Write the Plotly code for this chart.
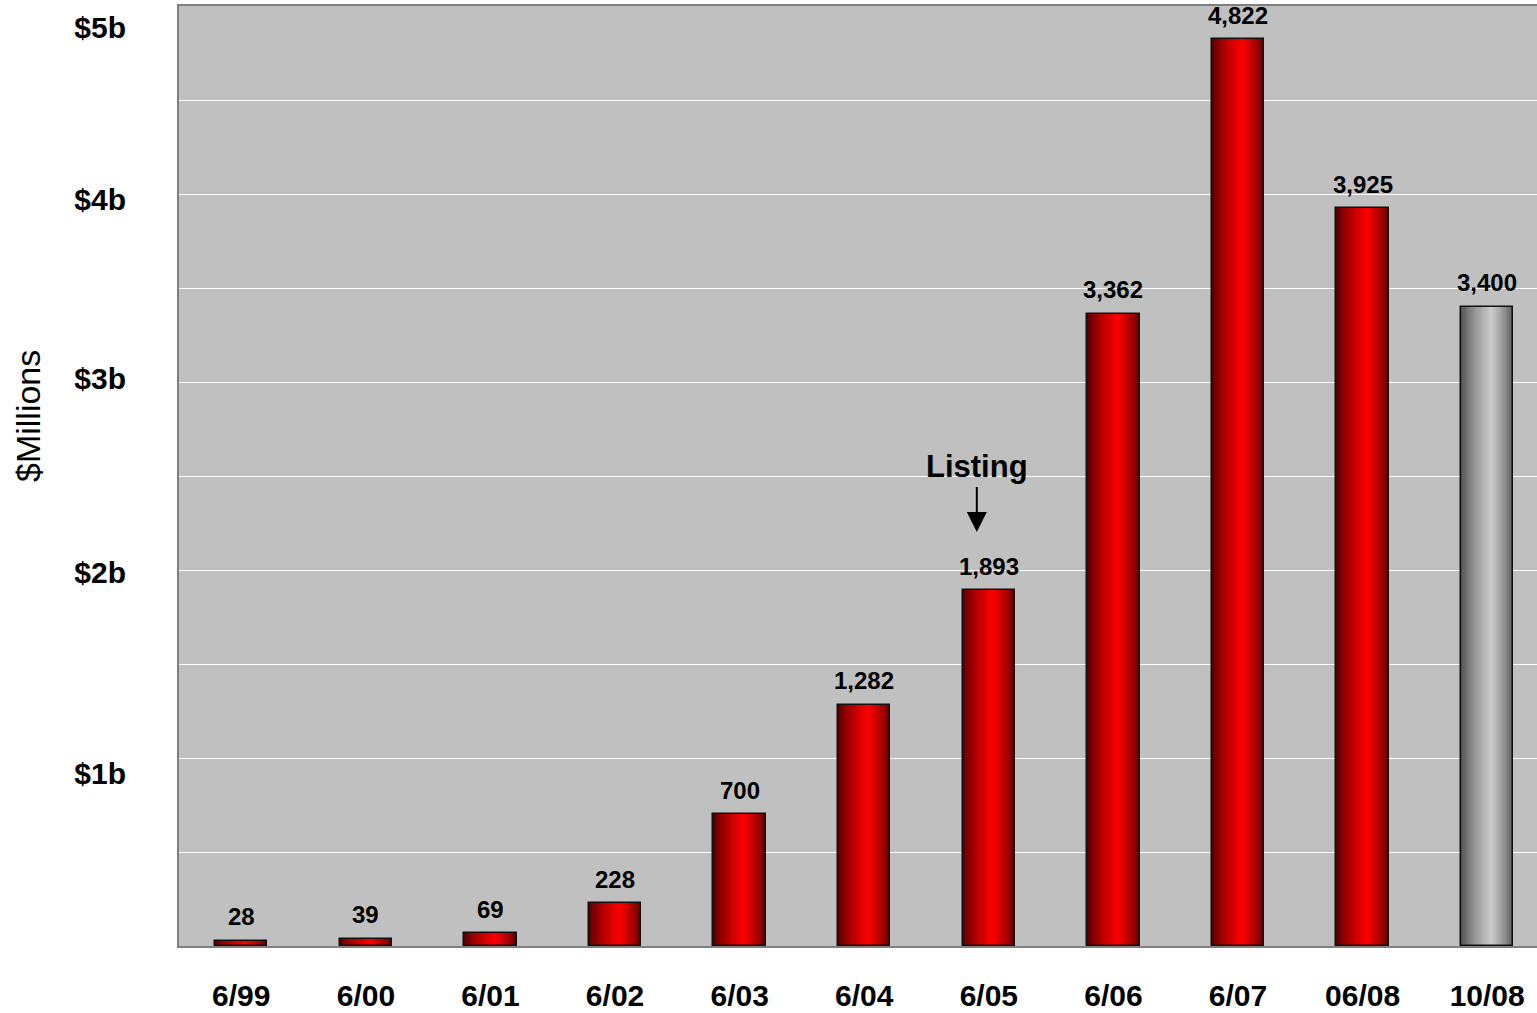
import plotly.graph_objects as go

# ---- data ----
categories = ['6/99', '6/00', '6/01', '6/02', '6/03', '6/04', '6/05', '6/06', '6/07', '06/08', '10/08']
values = [28, 39, 69, 228, 700, 1282, 1893, 3362, 4822, 3925, 3400]
bar_kind = ['red'] * 10 + ['grey']          # last bar drawn in silver
ytick_vals = [920, 1989, 3016, 3973, 4888]   # where the $ labels sit on the value scale
ytick_text = ['$1b', '$2b', '$3b', '$4b', '$5b']
listing_category = '6/05'
listing_text = 'Listing'
y_title = '$Millions'

FONT = 'Arial, Liberation Sans, sans-serif'
BAR_W = 0.42
PEAK = 0.58          # fraction across the bar where the highlight sits
N_LAYERS = 26

gradients = {
    'red': ((0x50, 0x00, 0x00), (0xFF, 0x00, 0x00)),
    'grey': ((0x4E, 0x4E, 0x4E), (0xCC, 0xCC, 0xCC)),
}


def mix(c0, c1, t):
    return 'rgb(%d,%d,%d)' % tuple(round(a + (b - a) * t) for a, b in zip(c0, c1))


fig = go.Figure()

# cylinder-like shading built from nested bar layers
half = BAR_W / 2
peak_off = (PEAK - 0.5) * BAR_W
for k in range(N_LAYERS):
    t = k / N_LAYERS
    left = -half + t * (peak_off + half)
    right = half - t * (half - peak_off)
    tc = t ** 0.7
    colors = [mix(*gradients[kind], tc) for kind in bar_kind]
    fig.add_trace(go.Bar(
        x=categories, y=values, width=right - left, offset=left,
        marker=dict(color=colors, line=dict(width=0)),
        hoverinfo='skip', showlegend=False))

# outline
fig.add_trace(go.Bar(
    x=categories, y=values, width=BAR_W,
    marker=dict(color='rgba(0,0,0,0)', line=dict(color='#111111', width=1.5)),
    hoverinfo='skip', showlegend=False))

# dummy trace to carry the label axis
fig.add_trace(go.Scatter(x=[categories[0]], y=[None], yaxis='y2',
                         mode='markers', showlegend=False, hoverinfo='skip'))

# value labels above the bars
for c, v in zip(categories, values):
    fig.add_annotation(x=c, y=v, text=f'<b>{v:,}</b>', showarrow=False,
                       yanchor='middle', yshift=24,
                       font=dict(family=FONT, size=24, color='black'))

# Listing arrow
li = categories.index(listing_category)
fig.add_annotation(x=listing_category, y=values[li], text=f'<b>{listing_text}</b>',
                   showarrow=True, arrowhead=2, arrowsize=2, arrowwidth=2,
                   arrowcolor='black', standoff=0, startstandoff=2,
                   xshift=-12, yshift=58, ax=0, ay=-66,
                   font=dict(family=FONT, size=31, color='black'))

# y-axis title
fig.add_annotation(xref='paper', yref='paper', x=(28 - 179) / 1358, y=(946 - 416) / 940,
                   text=y_title, textangle=-90, showarrow=False,
                   xanchor='center', yanchor='middle',
                   font=dict(family=FONT, size=34, color='black'))

fig.update_layout(
    width=1537, height=1013, autosize=False,
    margin=dict(l=179, r=0, t=6, b=67),
    paper_bgcolor='white', plot_bgcolor='#C0C0C0',
    barmode='overlay', bargap=0,
    font=dict(family=FONT, color='black'),
    xaxis=dict(
        type='category', range=[-0.5, 10.4], automargin=False,
        showgrid=False, zeroline=False,
        showline=True, linecolor='#808080', linewidth=2, mirror=True,
        ticks='', ticklabelstandoff=22,
        tickfont=dict(family=FONT, size=30, color='black'),
        tickprefix='<b>', ticksuffix='</b>',
    ),
    yaxis=dict(
        range=[0, 5000], dtick=500, tick0=0, automargin=False,
        showgrid=True, gridcolor='white', gridwidth=1,
        zeroline=False, showticklabels=False, ticks='',
        showline=True, linecolor='#808080', linewidth=2,
    ),
    yaxis2=dict(
        overlaying='y', side='left', range=[0, 5000], automargin=False,
        tickmode='array', tickvals=ytick_vals,
        ticktext=[f'<b>{t}</b>' for t in ytick_text],
        showgrid=False, zeroline=False, showline=False, ticks='',
        ticklabelstandoff=52,
        tickfont=dict(family=FONT, size=30, color='black'),
    ),
)

fig.write_html('out.html')
